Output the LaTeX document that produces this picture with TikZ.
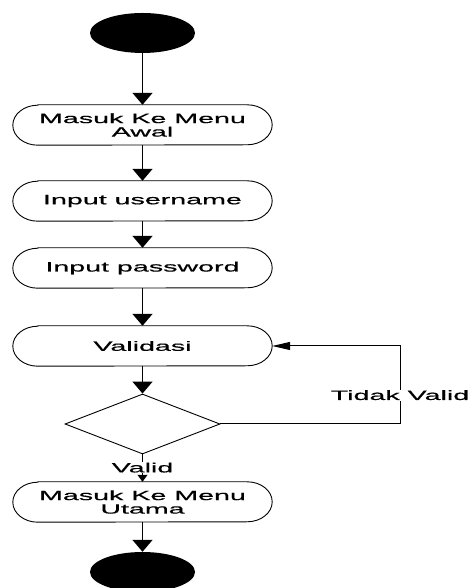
\documentclass[tikz,border=0pt]{standalone}
\usepackage{fontspec}
\setmainfont{Liberation Sans}[FakeStretch=2.12, FakeBold=0.6]
\usetikzlibrary{arrows.meta,shapes.geometric}
\tikzset{
  x=1pt, y=1pt,
  txt/.style={font=\fontsize{13.5}{13.5}\selectfont, align=center, inner sep=0pt},
  actbox/.style={txt, minimum width=259pt, minimum height=40pt, draw=none},
  outline/.style={draw=black, line width=0.9pt},
  flow/.style={draw=black, line width=1.6pt, -{Triangle[width=20pt,length=12pt]}},
  term/.style={ellipse, fill=black, minimum width=105pt, minimum height=40pt, inner sep=0pt},
  decision/.style={diamond, draw=black, line width=0.9pt, inner sep=0pt},
  lbl/.style={txt, fill=white, inner sep=0.5pt},
}
\begin{document}
\begin{tikzpicture}
\useasboundingbox (0,0) rectangle (473,588);
\clip (0,0) rectangle (473,588);

% start and end states
\node[term] (start) at (142.5,555) {};
\node[term] (stop) at (142.5,16) {};

% activities
\node[actbox] (menu) at (142.5,463) {Masuk Ke Menu\\Awal};
\node[actbox] (user) at (142.5,387) {Input username};
\node[actbox] (pass) at (142.5,320) {Input password};
\node[actbox] (valid) at (142.5,242) {Validasi};
\node[actbox] (utama) at (142.5,86) {Masuk Ke Menu\\Utama};

% rounded outlines of the activity boxes
\foreach \n in {menu,user,pass,valid,utama} {
  \draw[outline] ([xshift=25pt]\n.north west) -- ([xshift=-25pt]\n.north east)
    arc[start angle=90, end angle=-90, x radius=25pt, y radius=20pt]
    -- ([xshift=25pt]\n.south west)
    arc[start angle=270, end angle=90, x radius=25pt, y radius=20pt] -- cycle;
}

% decision
\node[decision, minimum width=155pt, minimum height=60pt, shape aspect=2.58] (dec) at (142.5,164) {};
\coordinate (loopA) at (400,164);
\coordinate (loopB) at (400,242);

% flow
\draw[flow] (start.south) -- (menu.north);
\draw[flow] (menu.south) -- (user.north);
\draw[flow] (user.south) -- (pass.north);
\draw[flow] (pass.south) -- (valid.north);
\draw[flow] (valid.south) -- (dec.north);
\draw[flow] (utama.south) -- (stop.north);

\draw[draw=black, line width=1pt, -{Triangle[width=8pt,length=18pt]}]
  (dec.east) -- (loopA) -- node[lbl, pos=0.37] (tv) {Tidak Valid} (loopB) -- (valid.east);
\draw[draw=black, line width=1pt, -{Triangle[width=10pt,length=7pt]}]
  (dec.south) -- node[lbl, pos=0.48] (vl) {Valid} (utama.north);
\end{tikzpicture}
\end{document}
